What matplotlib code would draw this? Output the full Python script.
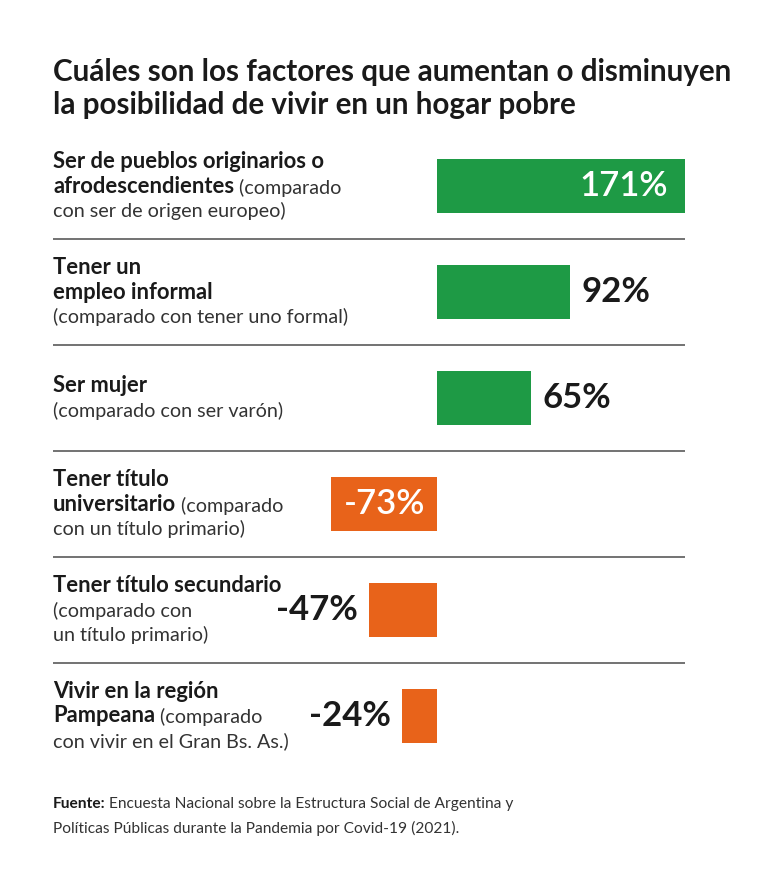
import matplotlib
matplotlib.use("Agg")
import matplotlib.pyplot as plt

# data
values = [171, 92, 65, -73, -47, -24]
value_labels = ["171%", "92%", "65%", "-73%", "-47%", "-24%"]
label_bold = [
    "Ser de pueblos originarios o\nafrodescendientes",
    "Tener un\nempleo informal",
    "Ser mujer",
    "Tener título\nuniversitario",
    "Tener título secundario",
    "Vivir en la región\nPampeana",
]
label_rest = [
    "(comparado\ncon ser de origen europeo)",
    "\n(comparado con tener uno formal)",
    "\n(comparado con ser varón)",
    "(comparado\ncon un título primario)",
    "\n(comparado con\nun título primario)",
    "(comparado\ncon vivir en el Gran Bs. As.)",
]
title = "Cuáles son los factores que aumentan o disminuyen\nla posibilidad de vivir en un hogar pobre"
source_bold = "Fuente:"
source_rest = ("Encuesta Nacional sobre la Estructura Social de Argentina y",
               "Políticas Públicas durante la Pandemia por Covid-19 (2021).")

GREEN = "#1e9a45"
ORANGE = "#e8631a"
DARK = "#1a1a1a"
GREY = "#333333"
FONT = "Lato"

W, H = 767, 885
plt.rcParams["font.family"] = [FONT, "DejaVu Sans"]
fig = plt.figure(figsize=(W / 100, H / 100), dpi=100)
fig.patch.set_facecolor("white")

# axes from x=53px to 685px, rows spaced ~106px
left_px, right_px = 53, 685
top_px, bot_px = 133, 768.5
ax = fig.add_axes([left_px / W, 1 - bot_px / H, (right_px - left_px) / W, (bot_px - top_px) / H])
px_per_unit = 1.45
xmin = (left_px - 437) / px_per_unit
xmax = (right_px - 437) / px_per_unit
ax.set_xlim(xmin, xmax)
ax.set_ylim(len(values) - 0.5, -0.5)
ax.axis("off")

rows = list(range(len(values)))
colors = [GREEN if v > 0 else ORANGE for v in values]
ax.barh(rows, values, height=0.51, color=colors, zorder=2)

for r in rows[:-1]:
    ax.axhline(r + 0.5, color="#5a5a5a", lw=1.2, zorder=1)

# value labels
for r, v, lab in zip(rows, values, value_labels):
    if v > 100:
        ax.annotate(lab, (v, r), xytext=(-12, 0), textcoords="offset points",
                    ha="right", va="center", color="white", fontsize=25, fontweight="semibold")
    elif v < -70:
        ax.annotate(lab, (v / 2, r), ha="center", va="center", color="white",
                    fontsize=25, fontweight="semibold")
    elif v > 0:
        ax.annotate(lab, (v, r), xytext=(8, 0), textcoords="offset points",
                    ha="left", va="center", color=DARK, fontsize=25, fontweight="bold")
    else:
        ax.annotate(lab, (v, r), xytext=(-8, 0), textcoords="offset points",
                    ha="right", va="center", color=DARK, fontsize=25, fontweight="bold")

# row labels: bold part followed by regular comparison text
sizes = {"bold": 15.8, "normal": 14.2}
line_pt = 24.5 * 0.72  # ~24.5px line step in points
for r, b, rest in zip(rows, label_bold, label_rest):
    lines = [[(t, "bold")] for t in b.split("\n")]
    rest_lines = rest.split("\n")
    if rest_lines[0]:
        lines[-1].append((" " + rest_lines[0], "normal"))
    for t in rest_lines[1:]:
        lines.append([(t, "normal")])
    n = len(lines)
    for i, segs in enumerate(lines):
        off = ((n - 1) / 2 - i) * line_pt - 5
        prev = None
        for t, w in segs:
            col = DARK if w == "bold" else GREY
            if prev is None:
                prev = ax.annotate(t, (xmin, r), xytext=(0, off), textcoords="offset points",
                                   ha="left", va="baseline", fontsize=sizes[w], fontweight=w, color=col)
            else:
                prev = ax.annotate(t, (1, 0), xycoords=prev, ha="left", va="bottom",
                                   fontsize=sizes[w], fontweight=w, color=col)

# title
fig.text(left_px / W, 1 - 58 / H, title, ha="left", va="top", fontsize=21.3,
         fontweight="bold", color=DARK, linespacing=1.22)

# source
src = fig.text(left_px / W, 1 - 808 / H, source_bold, ha="left", va="baseline",
               fontsize=11.2, fontweight="bold", color=DARK)
ax.annotate(source_rest[0], (1, 0), xycoords=src, xytext=(2.5, 0), textcoords="offset points",
            ha="left", va="bottom", fontsize=11.2, color=GREY)
fig.text(left_px / W, 1 - 833 / H, source_rest[1], ha="left", va="baseline",
         fontsize=11.2, color=GREY)

fig.savefig("out.png", dpi=100, facecolor="white")
